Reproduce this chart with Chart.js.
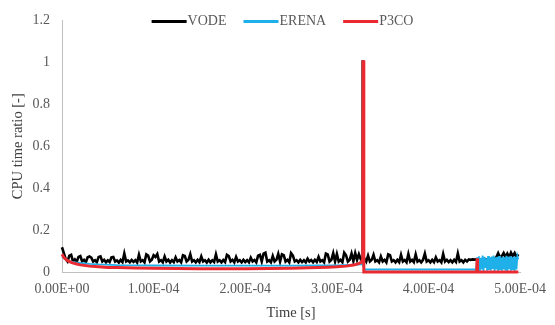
<!DOCTYPE html>
<html lang="en">
  <head>
    <meta charset="UTF-8" />
    <meta name="viewport" content="width=device-width, initial-scale=1.0" />
    <title>CPU time ratio</title>
    <style>
      body,
      html {
        margin: 0;
        padding: 0;
        background: #ffffff;
      }
      .chart-box {
        width: 555px;
        height: 325px;
      }
    </style>
  </head>
  <body>
    <div class="chart-box">
      <canvas id="myChart"></canvas>
    </div>

    <script src="https://cdn.jsdelivr.net/npm/chart.js"></script>

    <script>
      // Tempos em microssegundos (convertidos para segundos abaixo)
      const vodeTime = [
        0, 2, 4, 6, 8, 10, 12, 14, 16, 18, 20, 22, 24, 26, 28, 30, 32, 34, 36, 38,
        40, 42, 44, 46, 48, 50, 52, 54, 56, 58, 60, 62, 64, 66, 68, 70, 72, 74, 76, 78,
        80, 82, 84, 86, 88, 90, 92, 94, 96, 98, 100, 102, 104, 106, 108, 110, 112, 114, 116, 118,
        120, 122, 124, 126, 128, 130, 132, 134, 136, 138, 140, 142, 144, 146, 148, 150, 152, 154, 156, 158,
        160, 162, 164, 166, 168, 170, 172, 174, 176, 178, 180, 182, 184, 186, 188, 190, 192, 194, 196, 198,
        200, 202, 204, 206, 208, 210, 212, 214, 216, 218, 220, 222, 224, 226, 228, 230, 232, 234, 236, 238,
        240, 242, 244, 246, 248, 250, 252, 254, 256, 258, 260, 262, 264, 266, 268, 270, 272, 274, 276, 278,
        280, 282, 284, 286, 288, 290, 292, 294, 296, 298, 300, 302, 304, 306, 308, 310, 312, 314, 316, 318,
        320, 322, 324, 326, 328, 328.2, 329.2,
        332, 334, 336, 338, 340, 342, 344, 346, 348, 350, 352, 354, 356, 358, 360, 362, 364, 366, 368, 370,
        372, 374, 376, 378, 380, 382, 384, 386, 388, 390, 392, 394, 396, 398, 400, 402, 404, 406, 408, 410,
        412, 414, 416, 418, 420, 422, 424, 426, 428, 430, 432, 434, 436, 438, 440, 442, 444, 446, 448, 450,
        452, 454, 456, 458, 460, 462, 464, 466, 468, 470, 472, 474, 476, 478, 480, 482, 484, 486, 488, 490,
        492, 494, 496, 498,
      ];
      const vodeRatio = [
        0.118, 0.09, 0.062, 0.05, 0.078, 0.082, 0.05, 0.06, 0.048, 0.072,
        0.076, 0.05, 0.058, 0.046, 0.07, 0.074, 0.068, 0.05, 0.056, 0.047,
        0.072, 0.075, 0.05, 0.058, 0.046, 0.056, 0.048, 0.07, 0.072, 0.05,
        0.055, 0.045, 0.058, 0.047, 0.088, 0.05, 0.055, 0.046, 0.057, 0.048,
        0.056, 0.045, 0.082, 0.05, 0.056, 0.046, 0.084, 0.078, 0.05, 0.058,
        0.08, 0.072, 0.086, 0.05, 0.056, 0.046, 0.074, 0.05, 0.058, 0.045,
        0.056, 0.047, 0.07, 0.05, 0.057, 0.046, 0.08, 0.076, 0.05, 0.058,
        0.085, 0.05, 0.056, 0.046, 0.058, 0.047, 0.074, 0.05, 0.056, 0.045,
        0.058, 0.046, 0.056, 0.048, 0.084, 0.05, 0.056, 0.046, 0.057, 0.047,
        0.082, 0.076, 0.05, 0.058, 0.046, 0.072, 0.05, 0.056, 0.046, 0.058,
        0.047, 0.056, 0.046, 0.068, 0.05, 0.057, 0.046, 0.078, 0.082, 0.05,
        0.088, 0.092, 0.05, 0.056, 0.046, 0.076, 0.05, 0.058, 0.086, 0.05,
        0.084, 0.08, 0.05, 0.058, 0.046, 0.09, 0.078, 0.05, 0.056, 0.046,
        0.058, 0.047, 0.056, 0.046, 0.064, 0.05, 0.057, 0.046, 0.058, 0.048,
        0.072, 0.05, 0.056, 0.046, 0.088, 0.084, 0.05, 0.058, 0.09, 0.05,
        0.086, 0.05, 0.058, 0.047, 0.092, 0.08, 0.05, 0.058, 0.088, 0.052,
        0.09, 0.058, 0.085, 0.062, 0.07, 1.01, 0.07,
        0.05, 0.078, 0.05, 0.058, 0.082, 0.05, 0.056, 0.046, 0.074, 0.05,
        0.058, 0.046, 0.084, 0.08, 0.05, 0.056, 0.046, 0.058, 0.047, 0.082,
        0.05, 0.057, 0.046, 0.086, 0.05, 0.058, 0.047, 0.084, 0.05, 0.056,
        0.046, 0.058, 0.088, 0.05, 0.056, 0.046, 0.058, 0.047, 0.07, 0.05,
        0.056, 0.046, 0.086, 0.05, 0.058, 0.047, 0.056, 0.046, 0.058, 0.048,
        0.088, 0.05, 0.056, 0.046, 0.058, 0.05, 0.06, 0.058, 0.06, 0.059,
        0.06, 0.06, 0.061, 0.06, 0.06, 0.062, 0.06, 0.061, 0.06, 0.062,
        0.065, 0.07, 0.09, 0.07, 0.075, 0.09, 0.072, 0.088, 0.07, 0.092,
        0.075, 0.09, 0.072, 0.085,
      ];

      const erenaTime = [
        0, 3, 6, 10, 15, 20, 30, 40, 60, 80, 100, 150, 200, 250, 280, 300, 315,
        325, 328, 330, 452,
        453, 454, 455, 456, 457, 458, 459, 460, 461, 462,
        463, 464, 465, 466, 467, 468, 469, 470, 471, 472,
        473, 474, 475, 476, 477, 478, 479, 480, 481, 482,
        483, 484, 485, 486, 487, 488, 489, 490, 491, 492,
        493, 494, 495, 496, 497, 498,
      ];
      const erenaRatio = [
        0.072, 0.062, 0.055, 0.05, 0.046, 0.043, 0.039, 0.036, 0.033, 0.032,
        0.031, 0.03, 0.03, 0.03, 0.031, 0.032, 0.034, 0.036, 0.038, 0.012, 0.012,
        0.07, 0.01, 0.075, 0.005, 0.068, 0.012, 0.078, 0.004, 0.072, 0.02,
        0.065, 0.006, 0.076, 0.01, 0.07, 0.008, 0.074, 0.015, 0.078, 0.005,
        0.07, 0.012, 0.072, 0.004, 0.076, 0.01, 0.068, 0.006, 0.074, 0.012,
        0.07, 0.008, 0.077, 0.005, 0.072, 0.014, 0.075, 0.006, 0.07, 0.01,
        0.074, 0.005, 0.072, 0.012, 0.076, 0.06,
      ];

      const p3coTime = [
        0, 2, 5, 10, 15, 20, 30, 40, 50, 60, 80, 100, 125, 150, 175, 200, 225,
        250, 270, 290, 300, 310, 318, 324, 327, 328.2, 328.6, 329.4, 330, 452.6,
        453, 453.5, 498,
      ];
      const p3coRatio = [
        0.085, 0.07, 0.057, 0.046, 0.039, 0.034, 0.028, 0.025, 0.022, 0.021,
        0.019, 0.018, 0.017, 0.016, 0.016, 0.016, 0.017, 0.018, 0.02, 0.023,
        0.025, 0.028, 0.033, 0.04, 0.048, 0.06, 1.01, 0, 0, 0, 0.065, 0, 0,
      ];

      const xTicks = [0, 1e-4, 2e-4, 3e-4, 4e-4, 5e-4];
      const yTicks = [0, 0.2, 0.4, 0.6, 0.8, 1, 1.2];

      const serif = "'Liberation Serif', 'Times New Roman', serif";

      function toPoints(times, values) {
        return times.map((t, i) => ({ x: t * 1e-6, y: values[i] }));
      }

      // Formato tipo Excel: 1.00E-04
      function sci(v) {
        if (Math.abs(v) < 1e-12) return "0.00E+00";
        const parts = v.toExponential(2).split("e");
        const sign = parts[1][0] === "-" ? "-" : "+";
        const exp = parts[1].replace(/[+-]/, "").padStart(2, "0");
        return parts[0] + "E" + sign + exp;
      }

      // Legenda desenhada dentro da área do gráfico
      const inlineLegend = {
        id: "inlineLegend",
        afterDraw(chart) {
          const c = chart.ctx;
          c.save();
          c.font = "14px " + serif;
          const items = chart.data.datasets.map((d) => ({
            label: d.label,
            color: d.borderColor,
            w: c.measureText(d.label).width,
          }));
          const lineLen = 35;
          const gap = 1;
          const space = 17;
          let total = 0;
          items.forEach((it, i) => {
            total += lineLen + gap + it.w + (i ? space : 0);
          });
          let x = 282.5 - total / 2;
          const y = 21.5;
          items.forEach((it) => {
            c.fillStyle = it.color;
            c.fillRect(x, y - 1.5, lineLen, 3);
            x += lineLen + gap;
            c.fillStyle = "#595959";
            c.textBaseline = "middle";
            c.textAlign = "left";
            c.fillText(it.label, x, y);
            x += it.w + space;
          });
          c.restore();
        },
      };

      const ctx = document.getElementById("myChart").getContext("2d");

      const data = {
        datasets: [
          {
            label: "VODE",
            data: toPoints(vodeTime, vodeRatio),
            borderColor: "#000000",
            borderWidth: 2.6,
            order: 3,
          },
          {
            label: "ERENA",
            data: toPoints(erenaTime, erenaRatio),
            borderColor: "#1fb0ea",
            borderWidth: 1.8,
            order: 2,
          },
          {
            label: "P3CO",
            data: toPoints(p3coTime, p3coRatio),
            borderColor: "#ea2a30",
            borderWidth: 3,
            order: 1,
          },
        ],
      };

      const config = {
        type: "line",
        data: data,
        options: {
          responsive: true,
          maintainAspectRatio: false,
          animation: false,
          elements: {
            point: { radius: 0 },
            line: { tension: 0, borderJoinStyle: "miter" },
          },
          datasets: {
            line: { clip: 5, fill: false },
          },
          layout: {
            padding: { left: 0, right: 27, top: 16, bottom: 0 },
          },
          plugins: {
            legend: { display: false },
            tooltip: { enabled: false },
          },
          scales: {
            x: {
              type: "linear",
              min: xTicks[0],
              max: xTicks[xTicks.length - 1],
              afterFit: (scale) => {
                scale.height = 53;
              },
              afterBuildTicks: (scale) => {
                scale.ticks = xTicks.map((v) => ({ value: v }));
              },
              grid: { display: false, drawTicks: false },
              border: { display: true, color: "#bfbfbf", width: 1 },
              ticks: {
                padding: 9,
                maxRotation: 0,
                color: "#595959",
                font: { family: serif, size: 14 },
                callback: (v) => sci(v),
              },
              title: {
                display: true,
                text: "Time [s]",
                color: "#404040",
                font: { family: serif, size: 14.5 },
                padding: { top: 0, bottom: 3 },
              },
            },
            y: {
              type: "linear",
              min: yTicks[0],
              max: yTicks[yTicks.length - 1],
              afterFit: (scale) => {
                scale.width = 62;
              },
              afterBuildTicks: (scale) => {
                scale.ticks = yTicks.map((v) => ({ value: v }));
              },
              grid: { display: false, drawTicks: false },
              border: { display: true, color: "#bfbfbf", width: 1 },
              ticks: {
                padding: 12,
                color: "#595959",
                font: { family: serif, size: 14 },
                callback: (v) => String(+v.toFixed(1)),
              },
              title: {
                display: true,
                text: "CPU time ratio [-]",
                color: "#404040",
                font: { family: serif, size: 14.5 },
                padding: { top: 9, bottom: 0 },
              },
            },
          },
        },
        plugins: [inlineLegend],
      };

      const myChart = new Chart(ctx, config);
    </script>
  </body>
</html>
